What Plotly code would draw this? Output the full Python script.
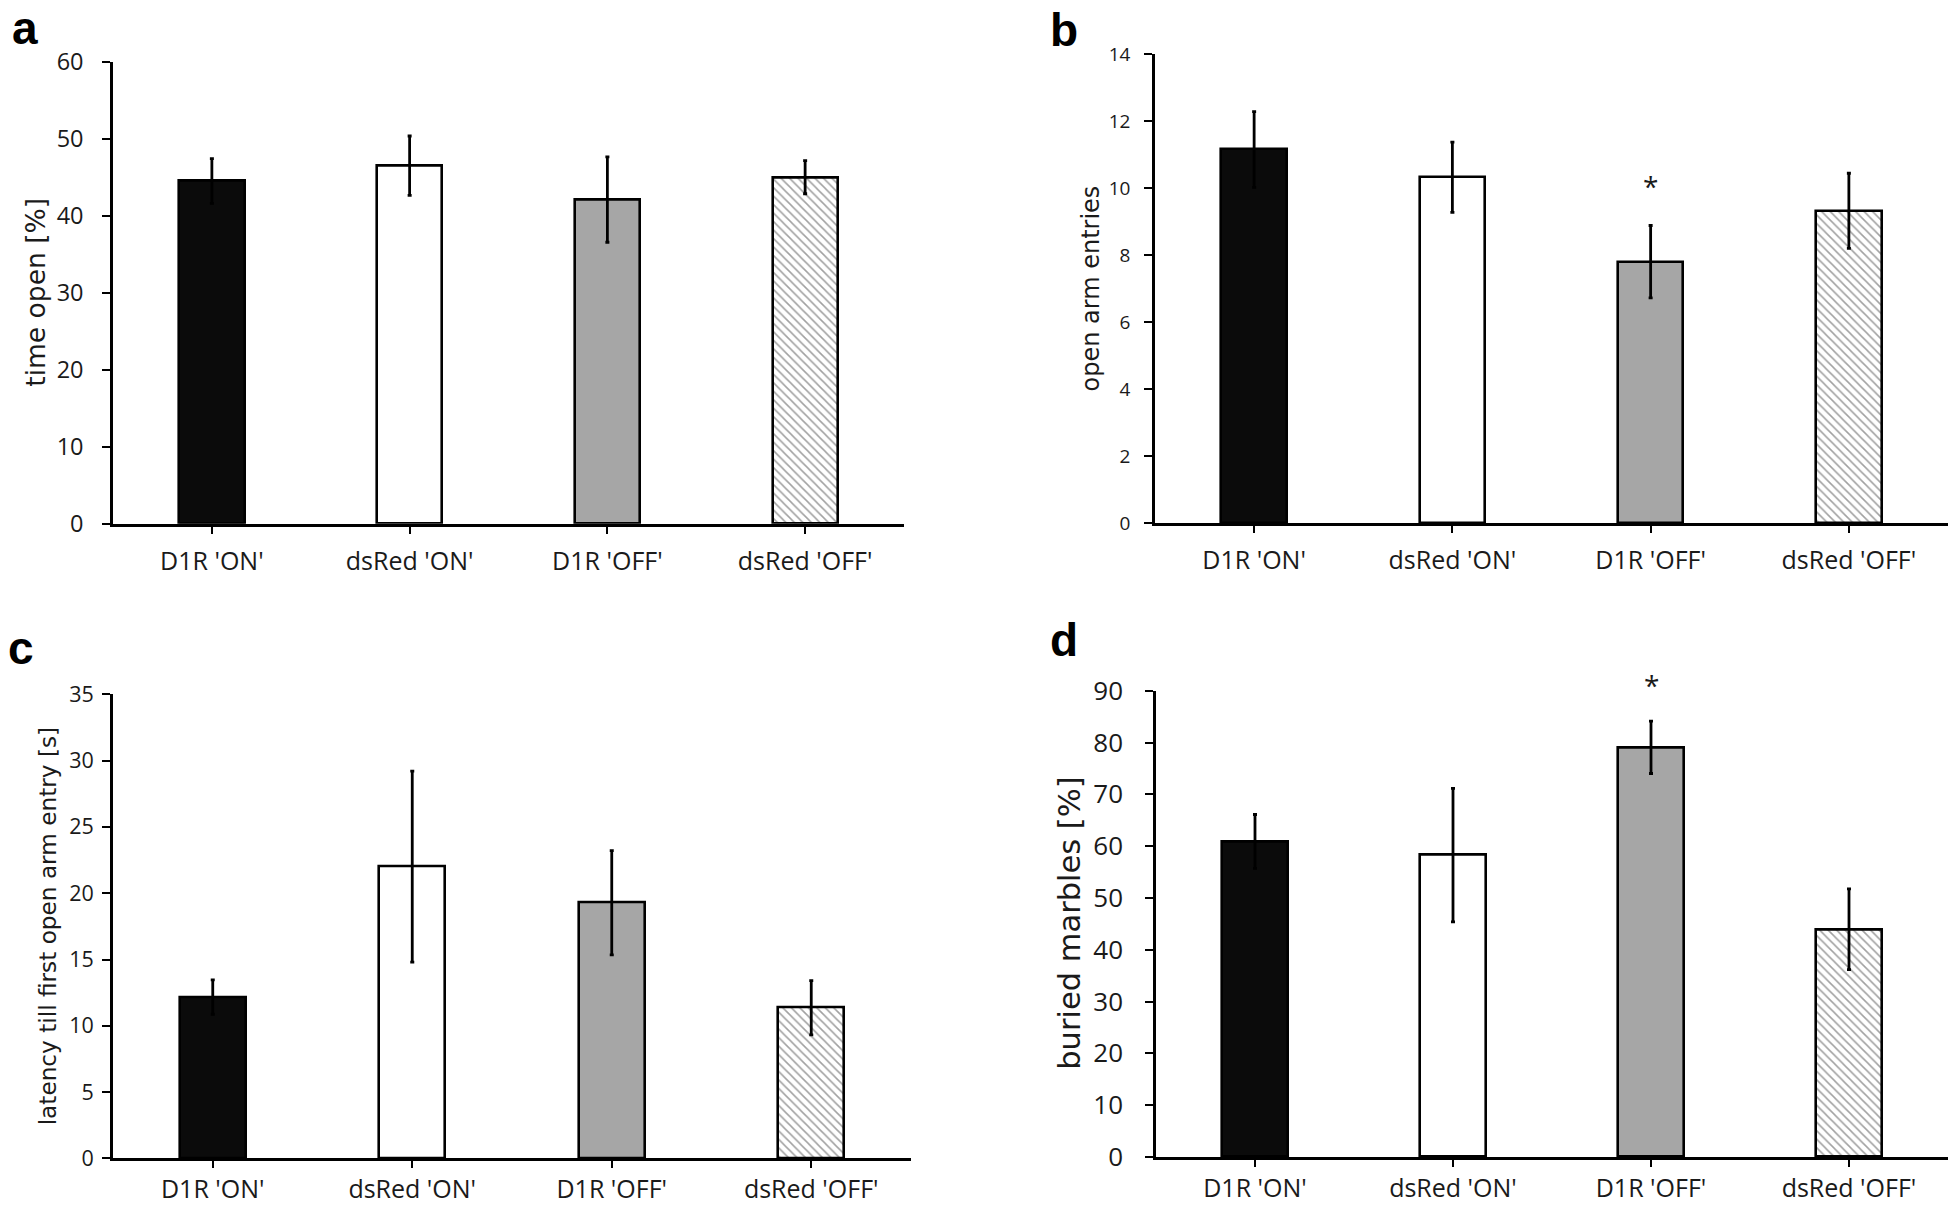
import plotly.graph_objects as go

W, H = 1952, 1205

categories = ["D1R 'ON'", "dsRed 'ON'", "D1R 'OFF'", "dsRed 'OFF'"]

time_open = [44.5, 46.5, 42.1, 45.0]
time_open_err = [2.9, 3.85, 5.55, 2.15]

entries = [11.15, 10.32, 7.8, 9.32]
entries_err = [1.13, 1.05, 1.08, 1.12]

latency = [12.17, 22.0, 19.28, 11.36]
latency_err = [1.3, 7.2, 3.93, 2.04]

marbles = [60.9, 58.26, 79.07, 43.94]
marbles_err = [5.2, 12.9, 5.05, 7.8]

y_titles = ["time open [%]", "open arm entries",
            "latency till first open arm entry [s]", "buried marbles [%]"]
y_ranges = [[0, 60], [0, 14], [0, 35], [0, 90]]
y_dticks = [10, 2, 5, 10]
panel_letters = ["a", "b", "c", "d"]

bar_colors = ["#0b0b0b", "#ffffff", "#a6a6a6", "#ffffff"]
bar_patterns = ["", "", "", "\\"]

TICKFONT = "Open Sans, Noto Sans, sans-serif"
TITLEFONT = "DejaVu Sans, Verdana, sans-serif"
INK = "#1a1a1a"


def px_x(p):
    return p / W


def px_y(p):
    return 1 - p / H


# panel geometry in pixels: (x_left, x_right, y_top, y_bottom)
panels = [
    (113, 904, 61.7, 523.7),
    (1155, 1948, 54.0, 523.0),
    (113, 911, 694.3, 1158.4),
    (1156, 1948, 690.7, 1156.9),
]
ytick_sizes = [23.5, 19, 21.5, 26]
ytick_standoff = [14, 10, 4, 17]
xtick_standoff = [6, 6, 0, 0]
title_sizes = [26.5, 24, 23.2, 30.5]
title_x = [36, 1090, 47, 1070]

fig = go.Figure()
data_sets = [(time_open, time_open_err), (entries, entries_err),
             (latency, latency_err), (marbles, marbles_err)]

for i, (vals, errs) in enumerate(data_sets):
    suffix = "" if i == 0 else str(i + 1)
    fig.add_trace(go.Bar(
        x=categories, y=vals,
        xaxis="x" + suffix, yaxis="y" + suffix,
        width=0.33,
        marker=dict(
            color=bar_colors,
            line=dict(color="#000000", width=2.6),
            pattern=dict(shape=bar_patterns, fgcolor="#9a9a9a",
                         size=6, solidity=0.26),
        ),
        error_y=dict(type="data", array=errs, color="#000000",
                     thickness=2.8, width=2),
        showlegend=False,
    ))

layout = dict(
    width=W, height=H,
    margin=dict(l=0, r=0, t=0, b=0, autoexpand=False),
    paper_bgcolor="white", plot_bgcolor="white",
    bargap=0,
)
annotations = []
for i, (xl, xr, yt, yb) in enumerate(panels):
    suffix = "" if i == 0 else str(i + 1)
    layout["xaxis" + suffix] = dict(
        domain=[px_x(xl), px_x(xr)],
        anchor="y" + suffix,
        type="category",
        range=[-0.5, 3.5],
        showline=True, linecolor="#000000", linewidth=2.6,
        ticks="outside", ticklen=7, tickwidth=2, tickcolor="#000000",
        tickfont=dict(family=TICKFONT, size=25, color=INK),
        ticklabelstandoff=xtick_standoff[i],
        automargin=False,
        showgrid=False, zeroline=False, fixedrange=True,
    )
    layout["yaxis" + suffix] = dict(
        domain=[px_y(yb), px_y(yt)],
        anchor="x" + suffix,
        range=y_ranges[i], dtick=y_dticks[i], tick0=0,
        showline=True, linecolor="#000000", linewidth=2.6,
        ticks="outside", ticklen=8, tickwidth=2, tickcolor="#000000",
        tickfont=dict(family=TICKFONT, size=ytick_sizes[i], color=INK),
        ticklabelstandoff=ytick_standoff[i],
        automargin=False,
        showgrid=False, zeroline=False, fixedrange=True,
    )
    annotations.append(dict(
        text=y_titles[i], textangle=-90,
        x=px_x(title_x[i]), y=px_y((yt + yb) / 2),
        xref="paper", yref="paper", xanchor="center", yanchor="middle",
        showarrow=False,
        font=dict(family=TITLEFONT, size=title_sizes[i], color=INK),
    ))

# panel letters: (left px, y px, vertical anchor)
letter_pos = [(10, 0, "top"), (1048, 30, "middle"), (6, 648, "middle"),
              (1048, 640, "middle")]
for i, (lx, ly, anc) in enumerate(letter_pos):
    annotations.append(dict(
        text="<b>%s</b>" % panel_letters[i],
        x=px_x(lx), y=px_y(ly), xref="paper", yref="paper",
        xanchor="left", yanchor=anc, showarrow=False,
        font=dict(family="Liberation Sans, Arial, sans-serif", size=46,
                  color="#000000"),
    ))

# significance asterisks
annotations.append(dict(text="*", x=categories[2], y=10.15, xref="x2", yref="y2",
                        showarrow=False, xanchor="center", yanchor="middle",
                        yshift=-3,
                        font=dict(family=TICKFONT, size=28, color=INK)))
annotations.append(dict(text="*", x=categories[2], y=90, xref="x4", yref="y4",
                        showarrow=False, xanchor="center", yanchor="middle",
                        yshift=6,
                        font=dict(family=TICKFONT, size=28, color=INK)))

layout["annotations"] = annotations
fig.update_layout(**layout)
fig.write_html("out.html",
               config={"displayModeBar": False},
               post_script="document.body.style.margin='0';")
